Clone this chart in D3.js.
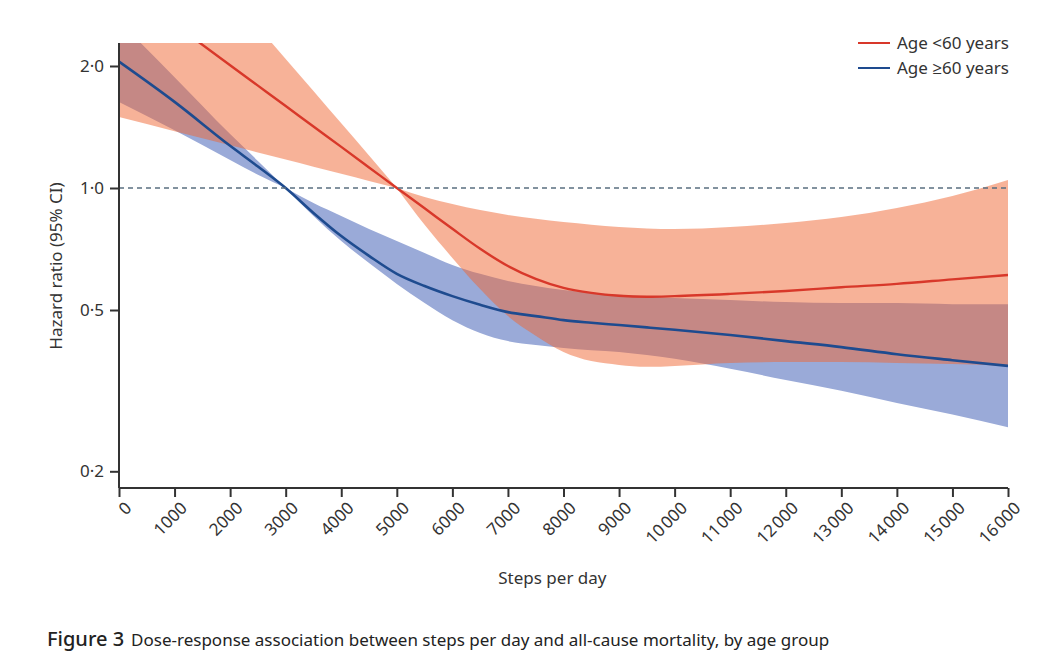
<!DOCTYPE html>
<html>
<head>
<meta charset="utf-8">
<script src="https://cdn.jsdelivr.net/npm/d3@7"></script>
<style>
  html, body { margin: 0; padding: 0; background: #fff; }
  svg { display: block; font-family: "Noto Sans", "Open Sans", sans-serif; }
</style>
</head>
<body>
<svg id="chart" width="1037" height="663"></svg>
<script>
// ---- Data ----
const steps = [0, 1000, 2000, 2500, 3000, 3500, 4000, 4500, 5000, 5500, 6000, 6500, 7000, 7500, 8000, 8500, 9000, 9500, 10000, 11000, 12000, 13000, 14000, 15000, 16000];

// Age <60 years
const youngHR    = [3.2, 2.535, 2.009, 1.789, 1.593, 1.418, 1.263, 1.124, 1.0, 0.891, 0.793, 0.708, 0.642, 0.597, 0.567, 0.551, 0.542, 0.539, 0.541, 0.548, 0.557, 0.569, 0.58, 0.595, 0.61];
const youngUpper = [6.2, 4.33, 3.0, 2.5, 2.08, 1.735, 1.444, 1.203, 1.0, 0.95, 0.913, 0.882, 0.858, 0.84, 0.824, 0.812, 0.801, 0.795, 0.792, 0.801, 0.82, 0.848, 0.893, 0.956, 1.047];
const youngLower = [1.497, 1.381, 1.274, 1.224, 1.175, 1.129, 1.084, 1.041, 1.0, 0.811, 0.672, 0.563, 0.483, 0.432, 0.394, 0.374, 0.366, 0.362, 0.364, 0.37, 0.372, 0.372, 0.37, 0.368, 0.364];

// Age >=60 years
const oldHR    = [2.05, 1.631, 1.271, 1.13, 1.0, 0.868, 0.761, 0.68, 0.614, 0.573, 0.541, 0.515, 0.494, 0.483, 0.472, 0.465, 0.459, 0.453, 0.447, 0.434, 0.419, 0.405, 0.389, 0.376, 0.364];
const oldUpper = [2.58, 1.877, 1.359, 1.166, 1.0, 0.918, 0.853, 0.792, 0.74, 0.691, 0.646, 0.614, 0.59, 0.573, 0.56, 0.552, 0.545, 0.54, 0.535, 0.529, 0.523, 0.52, 0.52, 0.517, 0.517];
const oldLower = [1.63, 1.388, 1.172, 1.078, 1.0, 0.853, 0.74, 0.653, 0.58, 0.52, 0.472, 0.439, 0.419, 0.41, 0.403, 0.398, 0.394, 0.387, 0.379, 0.358, 0.336, 0.316, 0.295, 0.276, 0.257];

const youngPinch = 5000;   // reference point where the CI collapses
const oldPinch = 3000;

const xTicks = [0, 1000, 2000, 3000, 4000, 5000, 6000, 7000, 8000, 9000, 10000, 11000, 12000, 13000, 14000, 15000, 16000];
const xTickLabels = ["0", "1000", "2000", "3000", "4000", "5000", "6000", "7000", "8000", "9000", "10\u200A000", "11\u200A000", "12\u200A000", "13\u200A000", "14\u200A000", "15\u200A000", "16\u200A000"];
const yTicks = [0.2, 0.5, 1.0, 2.0];
const yTickLabels = ["0\u00B72", "0\u00B75", "1\u00B70", "2\u00B70"];
const refLine = 1.0;

const seriesNames = ["Age <60 years", "Age \u226560 years"];

// ---- Layout ----
const svg = d3.select("#chart");
const plot = { left: 119, right: 1008, top: 43, bottom: 488 };

const x = d3.scaleLinear().domain([0, 16000]).range([plot.left, plot.right]);
const y = d3.scaleLog().domain([0.1819, 2.279]).range([plot.bottom, plot.top]);

const colors = {
  redLine: "#d8382a",
  blueLine: "#1e4b8f",
  salmon: "rgb(239,101,49)",
  blueFill: "#9aaad8",
  axis: "#333333",
  text: "#333333",
  dash: "#5a6f80"
};

svg.append("defs").append("clipPath").attr("id", "clip")
  .append("rect")
  .attr("x", plot.left).attr("y", plot.top)
  .attr("width", plot.right - plot.left).attr("height", plot.bottom - plot.top);

const g = svg.append("g").attr("clip-path", "url(#clip)");

function rows(hr, lo, hi) {
  return steps.map((s, i) => ({ s, hr: hr[i], lo: lo[i], hi: hi[i] }));
}
const young = rows(youngHR, youngLower, youngUpper);
const old = rows(oldHR, oldLower, oldUpper);

const area = d3.area()
  .x(d => x(d.s))
  .y0(d => y(d.lo))
  .y1(d => y(d.hi))
  .curve(d3.curveMonotoneX);

const line = d3.line()
  .x(d => x(d.s))
  .y(d => y(d.hr))
  .curve(d3.curveMonotoneX);

// Blue CI band (drawn first, opaque)
[old.filter(d => d.s <= oldPinch), old.filter(d => d.s >= oldPinch)].forEach(part => {
  g.append("path").datum(part)
    .attr("d", area)
    .attr("fill", colors.blueFill);
});

// Salmon CI band (semi-transparent over blue)
[young.filter(d => d.s <= youngPinch), young.filter(d => d.s >= youngPinch)].forEach(part => {
  g.append("path").datum(part)
    .attr("d", area)
    .attr("fill", colors.salmon)
    .attr("fill-opacity", 0.5);
});

// Reference dashed line
svg.append("line")
  .attr("x1", plot.left).attr("x2", plot.right)
  .attr("y1", y(refLine)).attr("y2", y(refLine))
  .attr("stroke", colors.dash)
  .attr("stroke-width", 1.7)
  .attr("stroke-dasharray", "5,4");

// Lines
g.append("path").datum(young)
  .attr("d", line)
  .attr("fill", "none")
  .attr("stroke", colors.redLine)
  .attr("stroke-width", 2.4);

g.append("path").datum(old)
  .attr("d", line)
  .attr("fill", "none")
  .attr("stroke", colors.blueLine)
  .attr("stroke-width", 2.6);

// ---- Axes ----
const yAxis = d3.axisLeft(y)
  .tickValues(yTicks)
  .tickFormat((d, i) => yTickLabels[i])
  .tickSize(9)
  .tickPadding(6);

const yg = svg.append("g")
  .attr("transform", `translate(${plot.left},0)`)
  .call(yAxis);
yg.select(".domain").attr("d", `M0,${plot.top}V${plot.bottom}`);

const xAxis = d3.axisBottom(x)
  .tickValues(xTicks)
  .tickFormat((d, i) => xTickLabels[i])
  .tickSize(9)
  .tickPadding(4);

const xg = svg.append("g")
  .attr("transform", `translate(0,${plot.bottom})`)
  .call(xAxis);
xg.select(".domain").attr("d", `M${plot.left},0H${plot.right}`);

[yg, xg].forEach(a => {
  a.select(".domain").attr("stroke", colors.axis).attr("stroke-width", 2);
  a.selectAll(".tick line").attr("stroke", colors.axis).attr("stroke-width", 2);
  a.selectAll(".tick text")
    .attr("fill", colors.text)
    .style("font-family", "'Noto Sans', sans-serif")
    .style("font-size", "17px");
});

xg.selectAll(".tick text")
  .attr("text-anchor", "end")
  .attr("dy", "0")
  .attr("transform", "translate(4,12) rotate(-45)");

// Axis titles
svg.append("text")
  .attr("x", x(7800)).attr("y", 584)
  .attr("text-anchor", "middle")
  .attr("fill", colors.text)
  .style("font-size", "17px")
  .text("Steps per day");

svg.append("text")
  .attr("transform", `translate(62,266) rotate(-90)`)
  .attr("text-anchor", "middle")
  .attr("fill", colors.text)
  .style("font-size", "17px")
  .text("Hazard ratio (95% CI)");

// Legend
const legend = svg.append("g").attr("transform", "translate(858,43)");
[colors.redLine, colors.blueLine].forEach((c, i) => {
  legend.append("line")
    .attr("x1", 0).attr("x2", 32)
    .attr("y1", i * 25).attr("y2", i * 25)
    .attr("stroke", c).attr("stroke-width", 2);
  legend.append("text")
    .attr("x", 39).attr("y", i * 25 + 6)
    .attr("fill", colors.text)
    .style("font-size", "17px")
    .text(seriesNames[i]);
});

// Caption
const cap = svg.append("text")
  .attr("x", 47).attr("y", 646)
  .attr("fill", "#222");
cap.append("tspan")
  .style("font-size", "20px")
  .style("font-weight", "500")
  .text("Figure 3");
cap.append("tspan")
  .attr("dx", 7)
  .style("font-size", "17px")
  .text("Dose-response association between steps per day and all-cause mortality, by age group");
</script>
</body>
</html>
